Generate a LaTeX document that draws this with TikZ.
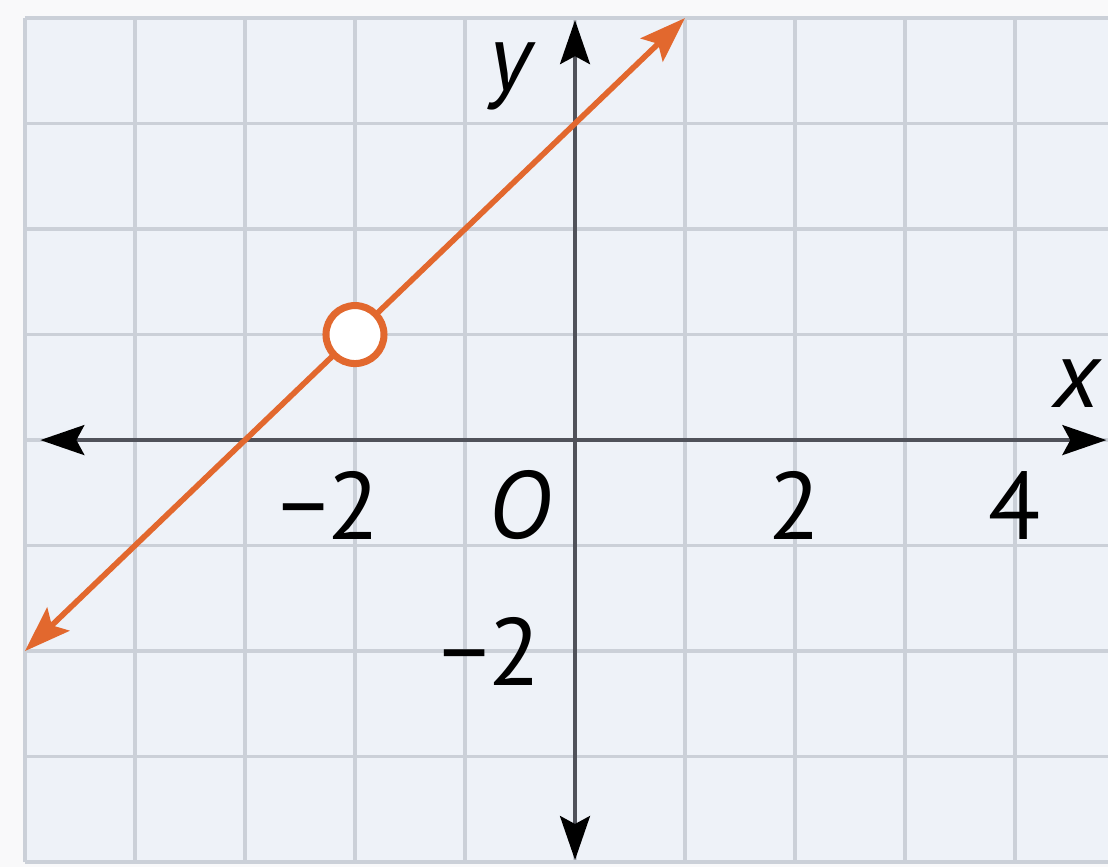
\documentclass[tikz,border=0pt]{standalone}
\usepackage{fontspec}
\setmainfont{PT Sans}
\usetikzlibrary{arrows.meta}
\definecolor{bgout}{RGB}{249,249,250}
\definecolor{bgin}{RGB}{238,242,248}
\definecolor{gridc}{RGB}{203,208,216}
\definecolor{axisc}{RGB}{80,82,90}
\definecolor{orangeline}{RGB}{226,104,46}
\tikzset{
  gridline/.style={draw=gridc, line width=2.6pt},
  axisline/.style={draw=axisc, line width=2.4pt, -{Stealth[length=1.1cm,width=0.75cm,inset=0.2cm,color=black]}},
  graphline/.style={draw=orangeline, line width=4pt, {Stealth[length=1.15cm,width=0.8cm,inset=0.22cm]}-{Stealth[length=1.15cm,width=0.8cm,inset=0.22cm]}},
  opendot/.style={circle, draw=orangeline, line width=5pt, fill=white, minimum size=1.45cm, inner sep=0pt},
  lbl/.style={font=\fontsize{68}{70}\selectfont, text=black, inner sep=0pt}
}
\begin{document}
\begin{tikzpicture}[x=2.75cm, y=2.6375cm]
  \useasboundingbox[fill=bgout] (-5.227,-4.047) rectangle (4.845,4.171);
  \fill[bgin] (-5,-4) rectangle (4.845,4);
  % grid
  \foreach \i in {-4,...,4} \draw[gridline] (\i,-4) -- (\i,4);
  \foreach \j in {-3,...,3} \draw[gridline] (-5,\j) -- (4.845,\j);
  \draw[gridline] (-5,-4) -- (-5,4);
  \draw[gridline] (-5,4) -- (4.845,4);
  \draw[gridline] (-5,-4) -- (4.845,-4);
  % axes
  \coordinate (xc) at (0,0);
  \coordinate (xl) at (-4.86,0);
  \coordinate (xr) at (4.83,0);
  \coordinate (yt) at (0,3.98);
  \coordinate (yb) at (0,-3.98);
  \draw[axisline] (xc) -- (xr);
  \draw[axisline] (xc) -- (xl);
  \draw[axisline] (xc) -- (yt);
  \draw[axisline] (xc) -- (yb);
  % graph
  \coordinate (la) at (-5,-2);
  \coordinate (lb) at (1,4);
  \draw[graphline] (la) -- (lb);
  \node[opendot] (hole) at (-2,1) {};
  % labels
  \node[lbl] (ylab) at (-0.565,3.45) {\textit{y}};
  \node[lbl] (xlab) at (4.57,0.54) {\textit{x}};
  \node[lbl] (xm2) at (-2.23,-0.62) {−2};
  \node[lbl] (olab) at (-0.5,-0.62) {\textit{O}};
  \node[lbl] (x2) at (2,-0.62) {2};
  \node[lbl] (x4) at (4,-0.62) {4};
  \node[lbl] (ym2) at (-0.77,-2.0) {−2};
\end{tikzpicture}
\end{document}
